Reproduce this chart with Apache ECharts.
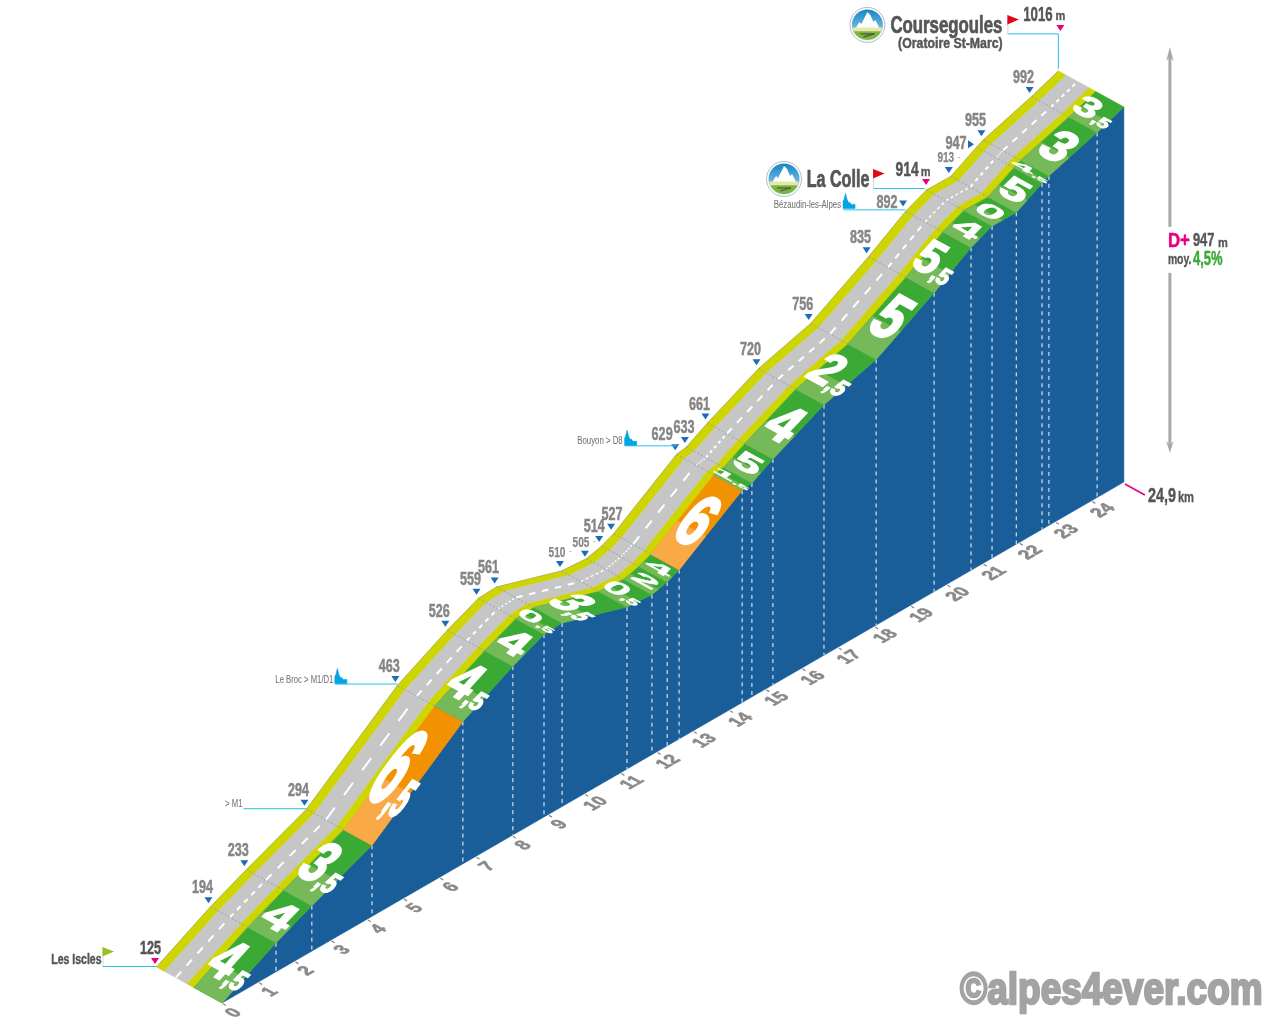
<!DOCTYPE html>
<html><head><meta charset="utf-8">
<style>html,body{margin:0;padding:0;background:#fff}#c{width:1280px;height:1024px}</style>
<script src="https://cdn.jsdelivr.net/npm/echarts@6/dist/echarts.min.js"></script>
</head><body><div id="c"></div>
<script>
// ---------- data ----------
const kmPoints=[0,1.49,2.48,4.14,6.65,8.03,8.89,9.39,11.18,11.87,12.29,12.62,14.36,14.63,15.21,16.62,18.06,19.66,20.68,21.26,21.93,22.64,22.83,24.16,24.9];
const altitudes=[125,194,233,294,463,526,559,561,510,505,514,527,629,633,661,720,756,835,892,914,913,947,955,992,1016];
const gradeLabels=['4,5','4','3,5','6,5','4,5','4','0,5','3,5','0,5','2','4','6','1,5','5','4','2,5','5','5,5','4','0','5','4,5','3','3,5'];
const kmTicks=[0,1,2,3,4,5,6,7,8,9,10,11,12,13,14,15,16,17,18,19,20,21,22,23,24];
const baseAltitude=125;
const totalKm=24.9, totalGain=947, meanGrade='4,5%';
const startName='Les Iscles', col1Name='La Colle', col2Name='Coursegoules', col2Sub='(Oratoire St-Marc)';
const waypointNames=['> M1','Le Broc > M1/D1','Bouyon > D8','Bézaudin-les-Alpes'];

// ---------- drawing style ----------
const FONT='"Liberation Sans Narrow","Liberation Sans",sans-serif';
const C={blue:'#1a5e99',yel:'#cfd500',road:'#c6c6c6',g:'#3aaa35',gl:'#76b959',o:'#f39200',ol:'#f9a945',
 cyan:'#29c0ec',tri:'#1b6cb5',pink:'#e6007e',lab:'#858585',dark:'#555555',church:'#00a5e6'};
const DEPTH=[-65.5,-36];
const F_YEL1=0.12,F_ROAD=0.47,F_YEL2=0.57;
const SHEAR=49.7;   // projected metres per km of the oblique view

function projector(api){
  const pt=(i)=>api.coord([kmPoints[i],altitudes[i]+kmPoints[i]*SHEAR]);
  const P=(i,f)=>{const p=pt(i);return [p[0]+(1-f)*DEPTH[0],p[1]+(1-f)*DEPTH[1]];};
  const base=(km)=>api.coord([km,baseAltitude+km*SHEAR]);
  return {pt,P,base};
}
function svdGroup(x,y,a,b,c,d,children){
  const E=(a+d)/2,F=(a-d)/2,G=(c+b)/2,H=(c-b)/2;
  const Q=Math.hypot(E,H),R=Math.hypot(F,G);
  const a1=Math.atan2(G,F),a2=Math.atan2(H,E);
  const th=(a2-a1)/2,ph=(a2+a1)/2;
  return {type:'group',x,y,rotation:-ph,scaleX:Q+R,scaleY:Q-R,children:[{type:'group',rotation:-th,children}]};
}
function txt(x,y,s,size,fill,o){
  o=o||{};
  const w=o.weight||'bold',al=o.align||'left',sw=o.stroke===undefined?0.35:o.stroke;
  return {type:'text',x,y,scaleX:o.sx||1,scaleY:o.sy||1,silent:true,style:{text:s,font:w+' '+size+'px '+FONT,fill,stroke:sw?fill:null,lineWidth:sw,
    align:al,textAlign:al,verticalAlign:'middle',textVerticalAlign:'middle'}};
}
function poly(points,fill,stroke){return {type:'polygon',silent:true,shape:{points},style:{fill,stroke:stroke||null,lineWidth:stroke?0.6:0}};}
function seg(x1,y1,x2,y2,stroke,lw,dash){return {type:'line',silent:true,shape:{x1,y1,x2,y2},style:{stroke,lineWidth:lw,lineDash:dash||null,fill:null}};}
function triDown(x,y,fill){return poly([[x-4,y-3],[x+4,y-3],[x,y+3]],fill);}
function church(x,y){return poly([[x,y],[x,y-7],[x+1,y-9],[x+2.5,y-15],[x+4,y-9],[x+5,y-7],[x+5,y-6],[x+7,y-6],[x+8,y-4],[x+12,y-4],[x+12,y]],C.church,C.church);}
function flag(x,y,fill){return [seg(x+.5,y,x+.5,y+19,'#cfd8dc',1),poly([[x,y],[x+11.5,y+4.5],[x,y+9.5]],fill)];}
function badge(cx,cy){
  const ground=[];for(let a=10;a<=170;a+=10){ground.push([cx+15*Math.cos(a*Math.PI/180),cy+15*Math.sin(a*Math.PI/180)]);}
  const lawn=[];for(let a=25;a<=155;a+=10){lawn.push([cx+15*Math.cos(a*Math.PI/180),cy+15*Math.sin(a*Math.PI/180)]);}
  return [
   {type:'circle',silent:true,shape:{cx,cy,r:17.5},style:{fill:'#fff',stroke:'#b5bcc0',lineWidth:1}},
   {type:'circle',silent:true,shape:{cx,cy,r:15.5},style:{fill:{type:'linear',x:0,y:0,x2:0,y2:1,colorStops:[{offset:0,color:'#1784c7'},{offset:1,color:'#a8dcf2'}]}}},
   poly([[cx-14,cy+7],[cx-8,cy-3],[cx-6,cy-1],[cx,cy-13],[cx+3,cy-10],[cx+6,cy-3],[cx+8,cy-5],[cx+14,cy+7]],'#ffffff'),
   poly(ground,'#e6e9a8'),poly(lawn,'#7fb539'),
   seg(cx-7,cy+9,cx+7,cy+9,'#4a5a4a',1.2),seg(cx+7,cy+9,cx-4,cy+12,'#4a5a4a',1.2)
  ];
}

// ---------- series ----------
function faceItem(params,api){
  const {P,base}=projector(api);
  const top=kmPoints.map((k,i)=>P(i,1));
  const pts=top.concat([base(totalKm),base(0)]);
  const kids=[poly(pts,C.blue,C.blue)];
  for(let i=1;i<kmPoints.length-1;i++){
    const p=P(i,1),b=base(kmPoints[i]);
    kids.push(seg(p[0],p[1],p[0],b[1],'#d5dfea',1.2,[4,4]));
  }
  return {type:'group',children:kids};
}
function roadItem(params,api){
  const i=params.dataIndex;
  if(i>=kmPoints.length-1) return null;
  const {P}=projector(api);
  const band=(f0,f1,fill)=>poly([P(i,f0),P(i+1,f0),P(i+1,f1),P(i,f1)],fill,fill);
  const a=P(i,1),b=P(i+1,1),L=Math.hypot(b[0]-a[0],b[1]-a[1]);
  const steep=parseFloat(gradeLabels[i].replace(',','.'))>=6;
  const dark=steep?C.o:C.g, light=steep?C.ol:C.gl;
  const mid=(f,t)=>{const p=P(i,f),q=P(i+1,f);return [p[0]+(q[0]-p[0])*t,p[1]+(q[1]-p[1])*t];};
  const T=0.42;
  const c0=P(i,0.295),c1=P(i+1,0.295),per=L/5;
  const e0=P(i,0),e1=P(i+1,0);
  const kids=[
    band(0,F_YEL1,C.yel),band(F_YEL1,F_ROAD,C.road),band(F_ROAD,F_YEL2,C.yel),
    band(F_YEL2,1,dark),
    poly([P(i,F_YEL2),P(i,1),mid(1,T),mid(F_YEL2,T)],light,light),
    seg(e0[0],e0[1],e1[0],e1[1],'#9a9d6a',0.6)
  ];
  kids.push(seg(c0[0],c0[1],c1[0],c1[1],'#ffffff',L<30?1.5:2,[per*.5,per*.5]));
  return {type:'group',children:kids};
}
function crossItem(params,api){
  const i=params.dataIndex;
  if(i===0||i===kmPoints.length-1) return null;
  const {P}=projector(api);
  const e0=P(i,0),e1=P(i,F_YEL2);
  return seg(e0[0],e0[1],e1[0],e1[1],'#8f9bb5',0.8,[2.5,1.5]);
}
function gradeItem(params,api){
  const i=params.dataIndex;
  if(i>=gradeLabels.length) return null;
  const {P}=projector(api);
  const a=P(i,1),b=P(i+1,1),L=Math.hypot(b[0]-a[0],b[1]-a[1]);
  const V=[(b[0]-a[0])/L,(b[1]-a[1])/L];
  const dl=Math.hypot(DEPTH[0],DEPTH[1]),U=[-DEPTH[0]/dl,-DEPTH[1]/dl];
  const parts=gradeLabels[i].split(',');
  const H=L<60?Math.max(L*0.62,7):Math.min(L*0.56,86);
  const hy=H/72, ux=parts.length>1?0.42:0.48;
  const cf=parts.length>1?0.77:0.785, cp=P(i,cf);
  const along=L*0.5-Math.min(3,L*0.05);
  const cx=cp[0]+V[0]*along, cy=cp[1]+V[1]*along;
  const sw=L<30?2:4;
  const big=(s,x,y,size,al,w)=>({type:'text',x,y,silent:true,style:{text:s,font:'bold '+size+'px '+FONT,fill:'#fff',stroke:'#fff',lineWidth:w,align:al,textAlign:al,verticalAlign:'middle',textVerticalAlign:'middle'}});
  const kids=[];
  if(parts.length>1){kids.push(big(parts[0],7.5,0,100,'right',sw));kids.push(big(','+parts[1],8,18,50,'left',Math.min(sw,2.5)));}
  else kids.push(big(parts[0],0,0,100,'center',sw));
  return svdGroup(cx,cy,U[0]*ux,-V[0]*hy,U[1]*ux,-V[1]*hy,kids);
}
function axisItem(params,api){
  const km=kmTicks[params.dataIndex];
  const {base}=projector(api);
  const p=base(km);
  const t={type:'text',silent:true,x:0,y:0,style:{text:String(km),font:'bold 16px '+FONT,fill:'#8a8a8a',stroke:'#8a8a8a',lineWidth:.6,align:'center',textAlign:'center',verticalAlign:'middle',textVerticalAlign:'middle'}};
  return {type:'group',children:[seg(p[0]+1,p[1]+.7,p[0]+4,p[1]+2.5,'#8a8a8a',1.3),
    svdGroup(p[0]+12,p[1]+10,.866*1.05,.877*1.2,-.5*1.05,.482*1.2,[t])]};
}
// offsets of the altitude labels from their road point: [triX,triY,labelX,labelY,small]
const labelNudge={0:[-1.5,-6,-6,-18],8:[-1.5,-7,-4.5,-18,1],9:[-1.5,-5,-5.5,-16,1],10:[-2.5,-7,-7.5,-19],11:[-2.5,-7,-1.5,-19],
 12:[-1.5,-7,-14.5,-19],13:[-1.5,-7,-2.5,-19],18:[-2.5,-8,-18.5,-8],20:[-2,-6.5,-5,-18,1],21:[-5.5,-3,-20.5,-3]};
function altItem(params,api){
  const i=params.dataIndex;
  if(i===19||i===24) return null;
  const {P}=projector(api);
  const p=P(i,0);
  const n=labelNudge[i]||[-2,-6.5,-8,-18.5];
  const kids=[];
  if(i===21) kids.push(poly([[p[0]+n[0]-3,p[1]+n[1]-4],[p[0]+n[0]+3,p[1]+n[1]],[p[0]+n[0]-3,p[1]+n[1]+4]],C.tri));
  else kids.push(triDown(p[0]+n[0],p[1]+n[1],i===0?C.pink:C.tri));
  const small=n[4];
  kids.push(txt(p[0]+n[2],p[1]+n[3],String(altitudes[i]),small?14:18,i===0?C.dark:C.lab,{align:'center',sx:small?.72:.7,stroke:small?.25:.5}));
  if(small) kids.push(txt(p[0]+n[2]+12,p[1]+n[3]-2,'-',8,C.lab,{weight:'normal',stroke:0}));
  return {type:'group',children:kids};
}
function annotationItem(params,api){
  const {P}=projector(api);
  const p=i=>P(i,0);
  const last=P(24,1);
  const k=[];
  // start
  const s=p(0);
  k.push(seg(s[0]-54,s[1]-.5,s[0],s[1]-.5,C.cyan,1));
  k.push(...flag(s[0]-54,s[1]-20,'#95c11f'));
  k.push(txt(s[0]-55,s[1]-6.5,startName,14,C.dark,{align:'right',sx:.75,stroke:.45}));
  // waypoints
  const m=p(3); k.push(seg(m[0]-63,m[1]-.5,m[0],m[1]-.5,C.cyan,1));
  k.push(txt(m[0]-64,m[1]-5.5,waypointNames[0],11,'#777',{align:'right',weight:'normal',sx:.7,stroke:.1}));
  const br=p(4); k.push(seg(br[0]-62,br[1]-1.5,br[0],br[1]-1.5,C.cyan,1));
  k.push(church(br[0]-62.5,br[1]-2));
  k.push(txt(br[0]-64,br[1]-6,waypointNames[1],11,'#777',{align:'right',weight:'normal',sx:.7,stroke:.1}));
  const bo=p(12); k.push(seg(bo[0]-52,bo[1]-8.5,bo[0],bo[1]-8.5,C.cyan,1));
  k.push(church(bo[0]-52,bo[1]-9));
  k.push(txt(bo[0]-54,bo[1]-13,waypointNames[2],11,'#777',{align:'right',weight:'normal',sx:.71,stroke:.1}));
  const bz=p(18); k.push(seg(bz[0]-62,bz[1]-1.5,bz[0],bz[1]-1.5,C.cyan,1));
  k.push(church(bz[0]-62.5,bz[1]-3));
  k.push(txt(bz[0]-64.5,bz[1]-6,waypointNames[3],11,'#777',{align:'right',weight:'normal',sx:.71,stroke:.1}));
  // La Colle
  const lc=p(19);
  k.push(seg(lc[0]-53,lc[1]-1.5,lc[0]-2,lc[1]-1.5,C.cyan,1));
  k.push(...flag(lc[0]-53.5,lc[1]-21,'#e30613'));
  k.push(triDown(lc[0]-.5,lc[1]-8,C.pink));
  k.push(txt(lc[0]-19.5,lc[1]-20,String(altitudes[19]),21,C.dark,{align:'center',sx:.66,stroke:.5}));
  k.push(txt(lc[0]-1,lc[1]-18,'m',13,C.dark,{align:'center',sx:.85,stroke:.3}));
  k.push(txt(lc[0]-88.5,lc[1]-9,col1Name,23,C.dark,{align:'center',sx:.7,stroke:.7}));
  k.push(...badge(lc[0]-142.5,lc[1]-11));
  // Coursegoules
  const cg=p(24);
  k.push(seg(cg[0]-51,cg[1]-37,cg[0],cg[1]-37,C.cyan,1));
  k.push(seg(cg[0],cg[1]-37,cg[0],cg[1]-2,C.cyan,1));
  k.push(...flag(cg[0]-51,cg[1]-56,'#e30613'));
  k.push(triDown(cg[0]+2,cg[1]-43,C.pink));
  k.push(txt(cg[0]-20.5,cg[1]-56,String(altitudes[24]),21,C.dark,{align:'center',sx:.63,stroke:.5}));
  k.push(txt(cg[0]+2,cg[1]-54,'m',13,C.dark,{align:'center',sx:.85,stroke:.3}));
  k.push(txt(cg[0]-112,cg[1]-44.5,col2Name,23,C.dark,{align:'center',sx:.73,stroke:.7}));
  k.push(txt(cg[0]-108,cg[1]-27,col2Sub,15,C.dark,{align:'center',sx:.82,stroke:.45}));
  k.push(...badge(cg[0]-191,cg[1]-46));
  // total distance
  const e=projector(api).base(totalKm);
  k.push(seg(e[0]+1,e[1]+2,e[0]+21,e[1]+13,C.pink,1.6));
  k.push(txt(e[0]+24,e[1]+14,String(totalKm).replace('.',','),20,C.dark,{sx:.72,stroke:.45}));
  k.push(txt(e[0]+54,e[1]+16,'km',14,C.dark,{sx:.8,stroke:.3}));
  // gain arrow and texts
  const ax=last[0]+46;
  k.push(seg(ax,last[1]-50,ax,last[1]+120,'#a9a9a9',3));
  k.push(poly([[ax,last[1]-60],[ax+3.7,last[1]-46],[ax,last[1]-50],[ax-3.7,last[1]-46]],'#a9a9a9'));
  k.push(seg(ax,last[1]+166,ax,last[1]+340,'#a9a9a9',3));
  k.push(poly([[ax,last[1]+346],[ax+3.7,last[1]+334],[ax,last[1]+338],[ax-3.7,last[1]+334]],'#a9a9a9'));
  k.push(txt(ax-2,last[1]+134,'D+',21,C.pink,{sx:.8,stroke:.5}));
  k.push(txt(ax+23,last[1]+134,String(totalGain),19,C.dark,{sx:.68,stroke:.45}));
  k.push(txt(ax+48,last[1]+136.5,'m',13,C.dark,{sx:.85,stroke:.3}));
  k.push(txt(ax-2,last[1]+153.5,'moy.',14,C.dark,{sx:.74,stroke:.35}));
  k.push(txt(ax+23,last[1]+152,meanGrade,21,C.g,{sx:.62,stroke:.5}));
  // site credit
  k.push(txt(960,992,'©alpes4ever.com',44,'#a3a3a3',{sx:.84,stroke:2.4}));
  return {type:'group',children:k};
}
const rows=kmPoints.map((k,i)=>[k,altitudes[i]+k*SHEAR]);
const layer=(name,renderItem,data)=>({type:'custom',name,coordinateSystem:'cartesian2d',renderItem,data:data||rows,silent:true,animation:false,clip:false});

const chart=echarts.init(document.getElementById('c'),null,{renderer:'canvas',width:1280,height:1024});
chart.setOption({
  animation:false,backgroundColor:'#fff',
  grid:{left:0,right:0,top:0,bottom:0,containLabel:false},
  xAxis:{type:'value',min:-6.129,max:29.21,show:false},
  yAxis:{type:'value',min:75.1,max:2507.4,show:false},
  series:[
    layer('face',faceItem,[rows[0]]),
    layer('road',roadItem),
    layer('cross',crossItem),
    layer('grades',gradeItem),
    layer('ticks',axisItem,kmTicks.map(k=>[k,baseAltitude+k*SHEAR])),
    layer('altitudes',altItem),
    layer('annotations',annotationItem,[rows[0]])
  ]
});
</script></body></html>
